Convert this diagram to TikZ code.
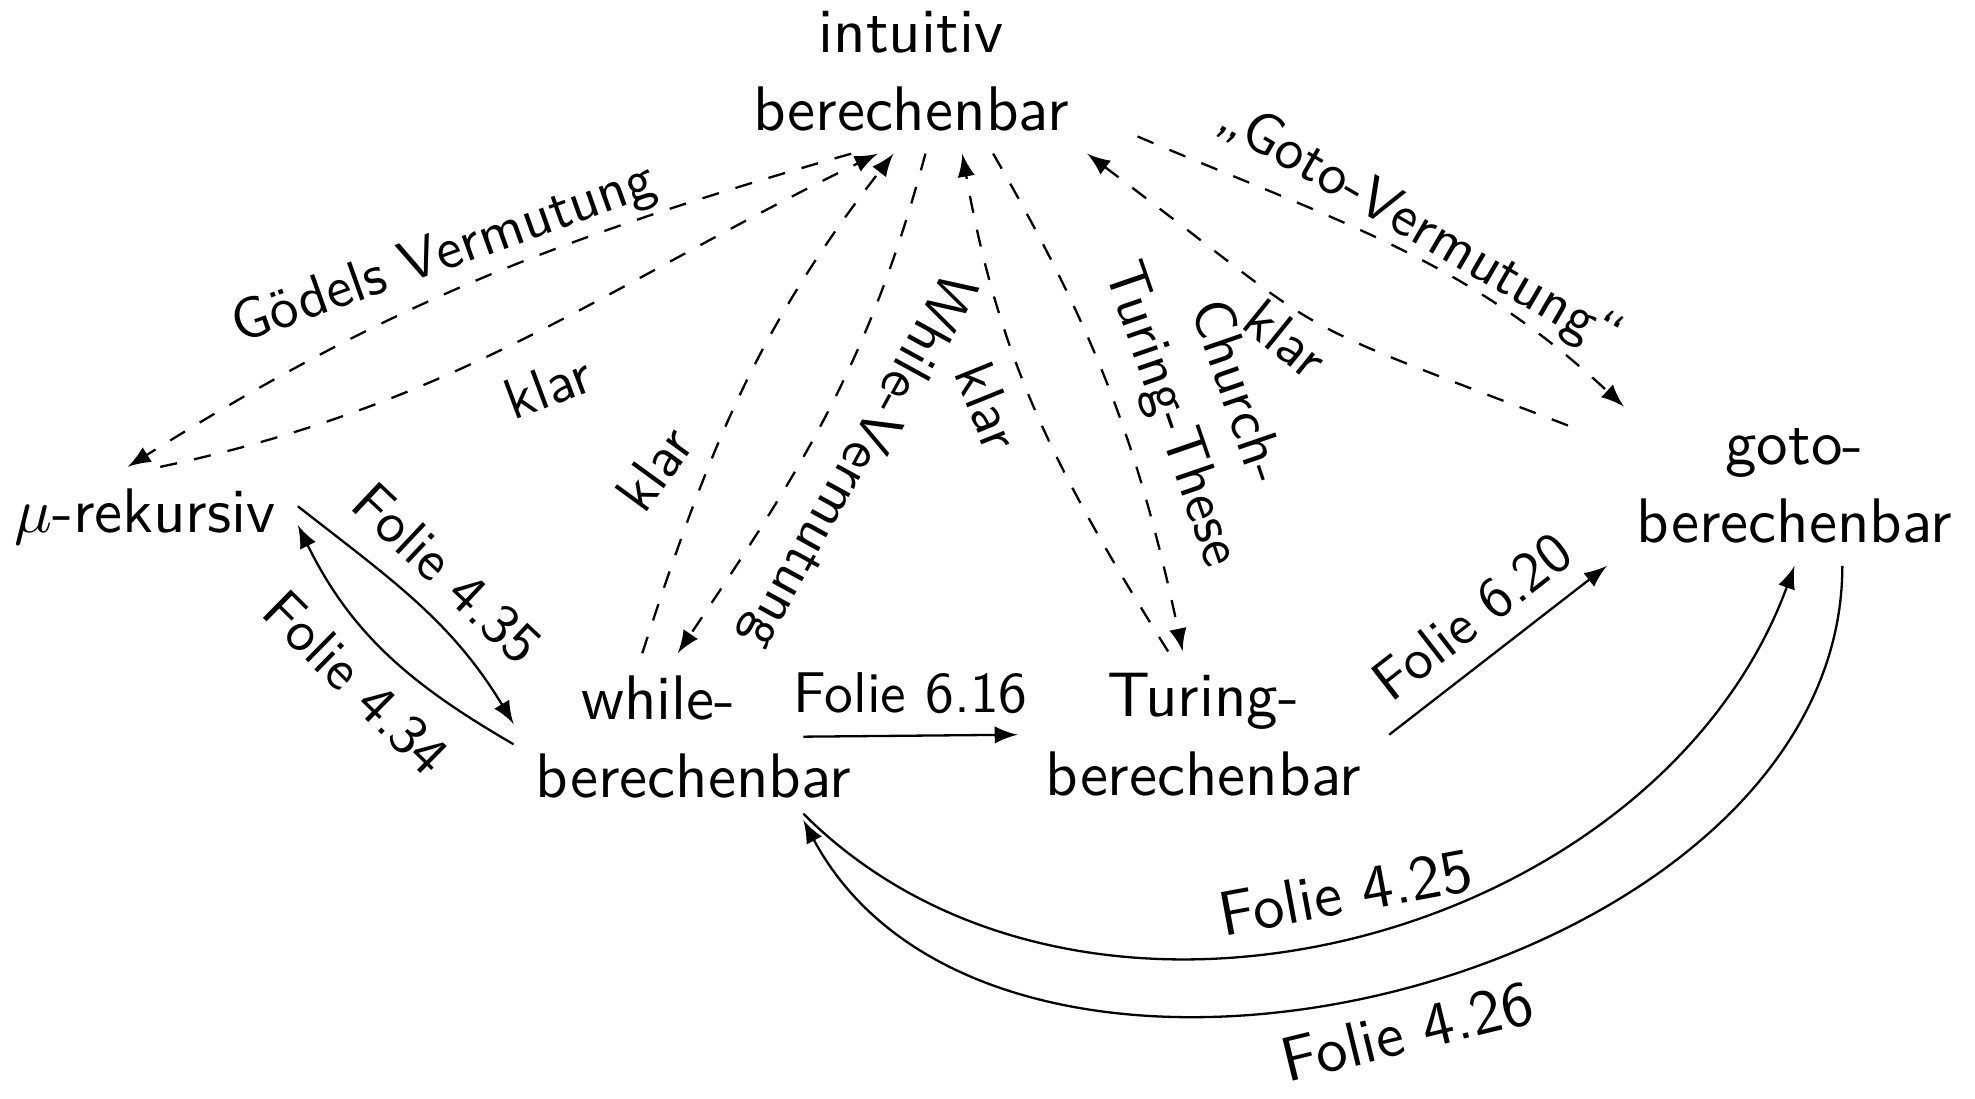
\documentclass[11pt,tikz,border=0pt]{standalone}
\usepackage{tikz}
\begin{document}
\begin{tikzpicture}[>=latex,font=\sffamily,
            klasse/.style={align=center},
            folie/.style={font=\sffamily\small},
            vermutet/.style={->,dashed}]
            \useasboundingbox (0,0) rectangle (12.072,-6.717);
            \node[klasse,text width=2.5cm] (intu) at (5.568,-0.437) {intuitiv\\berechenbar};
            \node (mu) at (0.886,-3.160) {$\mu$-rekursiv};
            \node[klasse,text width=1.5cm] (while) at (4.025,-4.503) {while-\\berechenbar};
            \node[klasse,text width=2cm] (turing) at (7.356,-4.491) {Turing-\\berechenbar};
            \node[klasse,text width=2.5cm] (goto) at (10.969,-2.972) {goto-\\berechenbar};
            \draw[vermutet] (intu.-126) to[out=196,in=32] node[folie,sloped,above,pos=.53,rotate=-4,inner sep=1.5pt] (goedel) {Gödels Vermutung} (mu.109);
            \draw[vermutet] (mu.73) to[out=12,in=206] node[folie,sloped,below=2pt,rotate=-6] (klarmu) {klar} (intu.-112);
            \draw[vermutet] (while.101) to[out=72,in=232] node[folie,sloped,above=1.5pt,pos=.28,rotate=-15] (klarwhile) {klar} (intu.-102);
            \draw[vermutet] (intu.-80) to[out=255,in=56] node[folie,sloped,above,allow upside down,pos=.55] (whilev) {While-Vermutung} (while.77);
            \draw[vermutet] (turing.113) to[out=122,in=280] node[folie,sloped,below,pos=.55] (klarturing) {klar} (intu.-58);
            \draw[vermutet] (intu.-45) to[out=-60,in=102] node[folie,sloped,above,align=center,pos=.58] (these) {Church-\\Turing-These} (turing.104);
            \draw[vermutet] (goto.165) to[out=159,in=-37,looseness=1.5] node[folie,sloped,below,pos=.52,rotate=-8,inner sep=1.5pt] (klargoto) {klar} (intu.-25);
            \draw[vermutet] (intu.-16) to[out=-23,in=137] node[folie,sloped,above,pos=.52,rotate=-3,inner sep=0pt] (gotov) {„Goto-Vermutung“} (goto.155);
            \draw[->] (mu.4) to[out=-38,in=121] node[folie,sloped,above] (f435) {Folie 4.35} (while.175);
            \draw[->] (while.183) to[out=150,in=-64] node[folie,sloped,below] (f434) {Folie 4.34} (mu.-3);
            \draw[->] (while.east) -- node[folie,above] (f616) {Folie 6.16} (turing.west);
            \draw[->] (turing.east) -- node[folie,sloped,above] (f620) {Folie 6.20} (goto.-157);
            \draw[->] (while.-28) to[out=-45,in=-110] node[sloped,above,pos=.5,rotate=-4] (f425) {Folie 4.25} (goto.south);
            \draw[->] (goto.-59) to[out=-90,in=-62] node[sloped,below] (f426) {Folie 4.26} (while.south east);
\end{tikzpicture}
\end{document}
